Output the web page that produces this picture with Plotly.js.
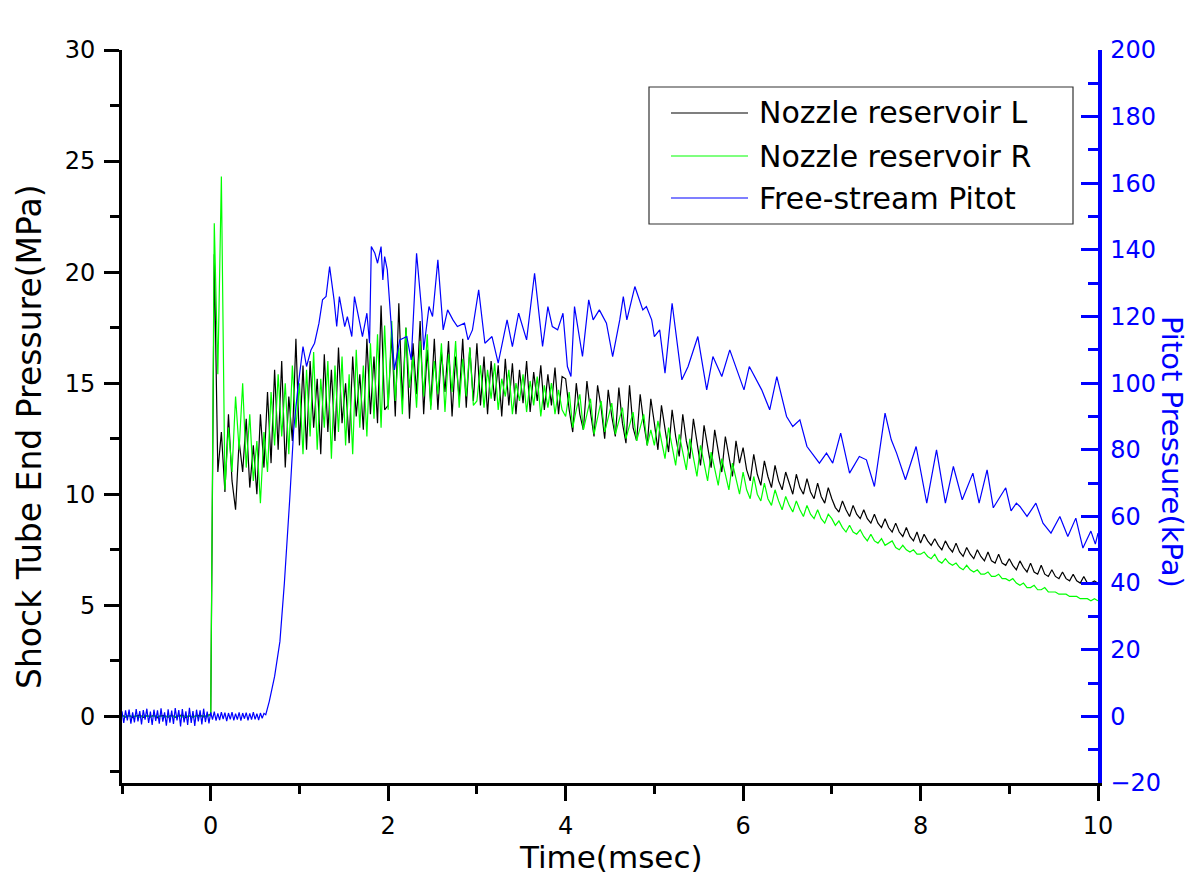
<!DOCTYPE html>
<html>
<head>
<meta charset="utf-8">
<script src="https://cdn.plot.ly/plotly-3.0.1.min.js"></script>
<style>html,body{margin:0;padding:0;background:#fff;}#chart{width:1190px;height:879px;}</style>
</head>
<body>
<div id="chart"></div>
<script>
// ---- Data ----
// Nozzle reservoir pressures (MPa), sampled on a uniform time grid starting at T0 with step DT (msec)
const T0 = -1.0;
const DT = 0.04;
const nozzleL = [
  0.05,-0.03,0.04,-0.05,0.02,0.06,-0.04,0.03,-0.02,0.05,-0.06,0.04,0.02,-0.03,0.05,-0.04,0.03,0.06,-0.05,0.02,-0.03,0.04,0.05,-0.02,0.03,
  0.1,20.8,11.0,12.8,10.1,13.6,10.6,9.3,12.4,11.0,13.4,10.3,12.2,10.0,13.6,11.2,14.6,11.4,15.6,12.0,16.0,11.2,14.4,12.4,17.0,
  12.2,15.8,12.0,16.0,13.0,15.2,11.8,16.3,12.8,15.6,12.4,16.6,13.2,15.0,12.3,16.2,13.5,15.4,12.9,17.0,13.6,16.2,13.2,18.5,13.8,
  14.0,17.2,13.5,18.6,14.2,17.5,13.4,16.8,14.5,17.8,13.6,16.5,14.0,17.0,13.8,16.4,14.6,16.9,13.5,16.2,14.3,17.0,13.9,16.6,14.2,
  16.8,14.0,16.2,13.6,16.0,14.2,15.8,13.5,16.1,14.0,15.9,13.6,15.6,14.1,16.0,13.7,15.5,14.2,15.8,13.8,15.4,14.0,15.7,13.6,15.3,
  15.2,13.8,12.8,15.0,13.6,12.9,15.1,13.7,12.6,14.9,13.9,12.5,14.7,13.5,12.6,14.8,13.2,12.3,14.9,13.0,12.4,14.5,13.2,12.2,14.3,
  13.2,12.0,14.0,13.0,11.9,13.8,12.6,11.7,13.6,12.4,11.6,13.4,12.3,11.3,13.1,12.2,11.2,12.9,11.9,11.0,12.6,11.6,10.8,12.4,11.4,
  12.1,11.1,10.6,11.8,10.9,10.4,11.5,10.8,10.3,11.3,10.6,10.2,11.0,10.5,10.0,10.9,10.3,10.0,10.7,10.1,9.8,10.5,9.9,9.6,10.3,
  9.8,9.4,9.2,9.7,9.3,9.0,9.5,9.1,8.9,9.3,8.9,8.7,9.1,8.7,8.5,8.9,8.5,8.3,8.7,8.3,8.1,8.5,8.1,7.9,8.3,
  7.8,8.2,7.9,7.7,8.0,7.7,7.5,7.9,7.6,7.4,7.8,7.4,7.2,7.6,7.3,7.1,7.5,7.2,7.0,7.4,7.0,6.9,7.3,6.9,6.8,
  7.1,6.8,6.6,7.0,6.7,6.5,6.9,6.5,6.4,6.8,6.4,6.3,6.6,6.3,6.2,6.5,6.2,6.1,6.4,6.1,6.0,6.3,6.0,6.0,6.1,6.0
];
const nozzleR = [
  0.02,-0.02,0.03,-0.01,0.02,-0.03,0.01,0.02,-0.02,0.03,-0.01,0.02,-0.03,0.02,0.01,-0.02,0.03,-0.02,0.01,0.02,-0.03,0.02,-0.01,0.03,-0.02,
  0.1,22.2,15.4,24.3,10.2,13.0,11.0,14.4,12.0,15.0,11.2,13.6,10.6,12.4,9.6,12.8,11.0,14.6,12.2,15.4,12.6,15.0,11.8,15.8,13.0,
  15.0,11.8,15.6,12.6,16.4,12.0,15.2,13.0,16.0,11.6,15.8,12.8,16.2,12.2,15.4,11.8,16.5,13.0,15.8,12.6,16.8,13.4,17.2,13.0,17.6,
  13.8,17.8,14.2,16.6,13.6,17.5,14.8,16.2,13.9,16.9,14.4,17.2,13.8,16.0,14.5,16.8,13.7,16.3,14.6,16.9,13.9,16.1,14.4,16.6,14.0,
  14.2,15.8,13.9,15.6,14.3,15.9,13.8,15.2,14.4,15.6,13.6,15.0,14.2,15.4,13.7,15.1,14.0,15.3,13.5,14.9,13.9,15.0,13.6,14.7,13.8,
  13.5,14.6,13.0,13.8,14.5,12.9,13.6,14.3,12.7,13.5,14.2,12.8,13.4,14.1,12.7,13.3,13.9,12.5,13.1,13.7,12.4,13.0,13.6,12.2,12.9,
  12.2,13.3,12.4,11.6,13.0,12.1,11.3,12.7,11.9,11.1,12.5,11.6,10.8,12.2,11.4,10.6,11.9,11.1,10.4,11.6,10.9,10.2,11.4,10.7,10.0,
  11.0,10.2,9.8,10.8,10.0,9.7,10.5,9.8,9.5,10.2,9.7,9.3,9.9,9.5,9.2,9.7,9.3,9.0,9.5,9.1,8.9,9.3,8.9,8.7,9.1,
  8.9,8.6,8.8,8.5,8.3,8.6,8.3,8.2,8.4,8.1,7.9,8.2,7.9,7.8,8.0,7.7,7.8,7.9,7.6,7.5,7.7,7.5,7.4,7.5,7.3,
  7.3,7.4,7.2,7.1,7.3,7.0,6.9,7.1,6.9,6.8,6.9,6.7,6.6,6.8,6.6,6.5,6.6,6.4,6.4,6.5,6.3,6.3,6.4,6.2,6.2,
  6.1,6.2,6.0,5.9,6.0,5.8,5.8,5.9,5.7,5.7,5.8,5.6,5.6,5.6,5.5,5.5,5.5,5.4,5.4,5.4,5.3,5.3,5.3,5.2,5.3,5.2
];
// Free-stream Pitot pressure (kPa): baseline before the rise on a uniform grid, then read points
const PITOT_T0 = -1.0;
const PITOT_DT = 0.02;
const pitotBase = [
  1.5,-2.0,1.8,-1.2,2.0,-2.2,1.2,-1.8,2.2,-1.5,1.6,-2.4,1.9,-1.0,2.3,-2.0,1.4,-2.6,2.0,-1.4,1.8,-2.2,2.4,-1.6,1.2,
  -2.8,2.1,-1.9,1.7,-2.3,2.5,-1.2,1.9,-3.0,2.2,-1.8,1.5,-2.6,2.6,-2.0,1.6,-2.9,2.0,-1.5,1.8,-2.4,2.3,-1.7,1.4,-2.1,
  1.2,-1.0,1.4,-1.3,0.9,-1.1,1.3,-0.8,1.1,-1.4,1.0,-0.9,1.3,-1.2,0.8,-1.0,1.2,-1.3,1.0,-0.7,1.1,-1.2,0.9,-1.0,1.3,
  -0.9,0.8,-1.1,1.0,-0.6,0.9,0.5
];
const pitotT = [0.66,0.72,0.78,0.83,0.89,0.935,0.98,1.01,1.04,1.08,1.13,1.17,1.22,1.26,1.30,1.34,1.39,1.42,1.45,1.51,
  1.54,1.59,1.62,1.68,1.71,1.76,1.79,1.81,1.85,1.88,1.92,1.94,1.96,1.99,2.03,2.07,2.13,2.21,2.26,2.32,
  2.38,2.40,2.46,2.50,2.56,2.62,2.67,2.73,2.78,2.86,2.90,2.95,3.02,3.09,3.17,3.24,3.34,3.40,3.47,3.56,
  3.65,3.74,3.80,3.85,3.91,3.97,4.02,4.06,4.10,4.19,4.26,4.31,4.38,4.46,4.53,4.61,4.65,4.69,4.78,4.87,
  4.91,4.97,5.00,5.06,5.12,5.20,5.31,5.38,5.49,5.59,5.66,5.76,5.85,6.01,6.07,6.21,6.30,6.38,6.49,6.56,
  6.64,6.72,6.86,6.94,7.01,7.10,7.20,7.31,7.39,7.48,7.60,7.67,7.73,7.83,7.95,8.07,8.18,8.28,8.37,8.47,
  8.59,8.66,8.75,8.82,8.96,9.02,9.08,9.12,9.20,9.30,9.38,9.47,9.57,9.66,9.75,9.83,9.92,9.97,10.0];
const pitotP = [4.5,12,22.5,40,65,86,98,104,111,105,110,112,118,125,126,135,125,117,126,117,
  120,114,126,118,114,121,112,141,139,136,141,131,138,134,118,104,113,114,107,139,
  121,110,123,120,137,116,122,119,117,118,113,116,128,112,114,106,119,111,121,113,
  133,111,123,117,116,121,105,102,123,108,125,119,122,118,108,119,126,119,129,122,
  123,119,114,116,103,124,101,105,114,98,108,102,110,98,105,98,92,102,90,87,
  89,81,76,79,76,85,73,78,77,69,91,83,79,71,81,64,80,64,75,65,
  73,64,74,62.6,68.6,61.7,64,63,60,64,58,55,60,54,59.5,50.5,55.6,51.7,55];

const seriesNames = ['Nozzle reservoir L', 'Nozzle reservoir R', 'Free-stream Pitot'];
const seriesColors = ['#000000', '#00ff00', '#0000ff'];
const xTitle = 'Time(msec)';
const yTitle = 'Shock Tube End Pressure(MPa)';
const y2Title = 'Pitot Pressure(kPa)';

// ---- Build traces ----
const tGrid = nozzleL.map((_, i) => +(T0 + i * DT).toFixed(4));
const tGridR = nozzleR.map((_, i) => +(T0 + i * DT).toFixed(4));
const pitotX = pitotBase.map((_, i) => +(PITOT_T0 + i * PITOT_DT).toFixed(4)).concat(pitotT);
const pitotY = pitotBase.concat(pitotP);

const FONT = 'DejaVu Sans';
const traces = [
  {x: tGrid, y: nozzleL, name: seriesNames[0], type: 'scatter', mode: 'lines',
   line: {color: seriesColors[0], width: 1.2}, xaxis: 'x', yaxis: 'y'},
  {x: tGridR, y: nozzleR, name: seriesNames[1], type: 'scatter', mode: 'lines',
   line: {color: seriesColors[1], width: 1.2}, xaxis: 'x', yaxis: 'y'},
  {x: pitotX, y: pitotY, name: seriesNames[2], type: 'scatter', mode: 'lines',
   line: {color: seriesColors[2], width: 1.2}, xaxis: 'x', yaxis: 'y2'}
];

// plot area in px: x 122..1098, y 50..783
const L = 122, R = 1098, TOP = 50, BOT = 783;
const px = v => (v - L) / (R - L);
const py = v => (BOT - v) / (BOT - TOP);

const legRows = [113, 156, 198];
const shapes = [
  {type: 'rect', xref: 'paper', yref: 'paper', x0: px(649), x1: px(1073), y0: py(224), y1: py(87),
   line: {color: '#333', width: 1.2}, fillcolor: 'white', layer: 'above'}
];
const annotations = [];
seriesNames.forEach((n, i) => {
  shapes.push({type: 'line', xref: 'paper', yref: 'paper', x0: px(671), x1: px(748), y0: py(legRows[i]), y1: py(legRows[i]),
    line: {color: seriesColors[i], width: 1.2}, layer: 'above'});
  annotations.push({xref: 'paper', yref: 'paper', x: px(757), y: py(legRows[i]), xanchor: 'left', yanchor: 'middle',
    text: n, showarrow: false, font: {family: FONT, size: 30, color: '#000'}});
});
annotations.push({xref: 'paper', yref: 'paper', x: px(611), y: py(857), xanchor: 'center', yanchor: 'middle',
  text: xTitle, showarrow: false, font: {family: FONT, size: 31, color: '#000'}});
annotations.push({xref: 'paper', yref: 'paper', x: px(29), y: py(437), xanchor: 'center', yanchor: 'middle',
  text: yTitle, textangle: -90, showarrow: false, font: {family: FONT, size: 33, color: '#000'}});
annotations.push({xref: 'paper', yref: 'paper', x: px(1172), y: py(452), xanchor: 'center', yanchor: 'middle',
  text: y2Title, textangle: 90, showarrow: false, font: {family: FONT, size: 29, color: '#0000ff'}});

const tickFont = {family: FONT, size: 24, color: '#000'};
const layout = {
  width: 1190, height: 879,
  margin: {l: L, r: 1190 - R, t: TOP, b: 879 - BOT, pad: 0},
  paper_bgcolor: 'white', plot_bgcolor: 'white',
  showlegend: false,
  xaxis: {range: [-1, 10], tick0: 0, dtick: 2, ticks: 'outside', ticklen: 15, tickwidth: 3, tickcolor: '#000',
    showline: true, linewidth: 3, linecolor: '#000', showgrid: false, zeroline: false, tickfont: tickFont,
    ticklabelstandoff: 4,
    minor: {tick0: 0, dtick: 1, ticks: 'outside', ticklen: 8, tickwidth: 3, tickcolor: '#000', showgrid: false}},
  xaxis2: {range: [-1, 10], overlaying: 'x', anchor: 'y', side: 'top', tick0: 0, dtick: 2, ticks: 'inside', ticklen: 16,
    tickwidth: 3, tickcolor: '#000', showticklabels: false, showline: true, linewidth: 3, linecolor: '#000',
    showgrid: false, zeroline: false,
    minor: {tick0: 0, dtick: 1, ticks: 'inside', ticklen: 10, tickwidth: 3, tickcolor: '#000', showgrid: false}},
  yaxis: {range: [-3, 30], tick0: 0, dtick: 5, ticks: 'outside', ticklen: 15, tickwidth: 3, tickcolor: '#000',
    showline: true, linewidth: 3, linecolor: '#000', showgrid: false, zeroline: false, tickfont: tickFont,
    ticklabelstandoff: 4,
    minor: {tick0: 0, dtick: 2.5, ticks: 'outside', ticklen: 9, tickwidth: 3, tickcolor: '#000', showgrid: false}},
  yaxis2: {range: [-20, 200], overlaying: 'y', anchor: 'x', side: 'right', tick0: 0, dtick: 20, ticks: 'inside', ticklen: 17,
    tickwidth: 3, tickcolor: '#0000ff', showline: true, linewidth: 3.5, linecolor: '#0000ff', showgrid: false, zeroline: false,
    tickfont: {family: FONT, size: 24, color: '#0000ff'}, ticklabelstandoff: 4,
    minor: {tick0: 0, dtick: 10, ticks: 'inside', ticklen: 10, tickwidth: 3, tickcolor: '#0000ff', showgrid: false}},
  shapes: shapes,
  annotations: annotations
};

Plotly.newPlot('chart', traces, layout, {staticPlot: true, displayModeBar: false});
</script>
</body>
</html>
